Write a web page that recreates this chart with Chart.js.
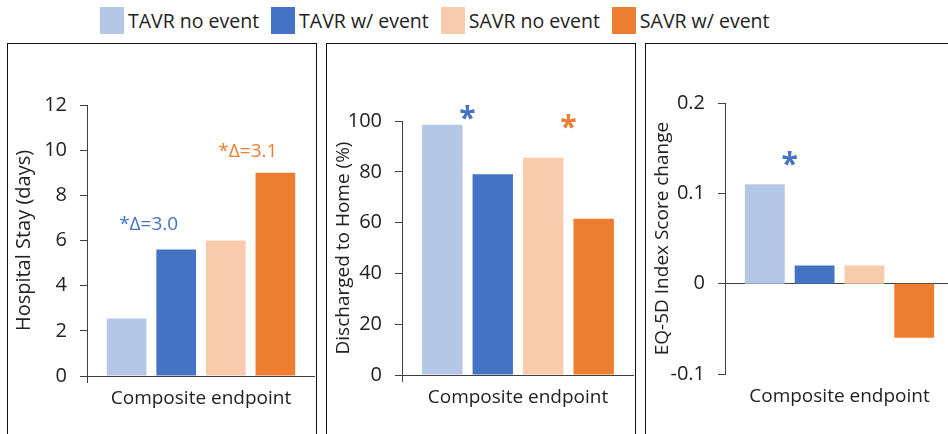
<!DOCTYPE html>
<html>
<head>
<meta charset="utf-8">
<script src="https://cdn.jsdelivr.net/npm/chart.js@4.4.1/dist/chart.umd.min.js"></script>
<style>
    body {
        margin: 0;
        width: 948px;
        height: 434px;
        overflow: hidden;
        background: #fff;
        position: relative;
        font-family: "Open Sans", sans-serif;
        color: #222;
    }
    .legend {
        position: absolute;
        top: 7px;
        left: 100px;
        display: flex;
        align-items: center;
        font-size: 19.5px;
        white-space: nowrap;
    }
    .legend-item {
        display: flex;
        align-items: center;
        margin-right: 12px;
    }
    .legend-box {
        width: 24px;
        height: 27px;
        margin-right: 4px;
    }
    .panel {
        position: absolute;
        top: 43px;
        height: 420px;
        border: 1px solid #111;
        box-sizing: border-box;
    }
    .chart-box {
        position: absolute;
        top: 44px;
        height: 390px;
    }
</style>
</head>
<body>

<div class="legend" id="legend"></div>

<div class="panel" style="left:7px;width:310px;"></div>
<div class="panel" style="left:326px;width:310px;"></div>
<div class="panel" style="left:645px;width:320px;"></div>

<div class="chart-box" style="left:8px;width:307px;"><canvas id="stayChart"></canvas></div>
<div class="chart-box" style="left:328px;width:306px;"><canvas id="homeChart"></canvas></div>
<div class="chart-box" style="left:647px;width:307px;"><canvas id="eqChart"></canvas></div>

<script>
// Data
const seriesLabels = ['TAVR no event', 'TAVR w/ event', 'SAVR no event', 'SAVR w/ event'];
const categories = ['Composite endpoint'];

const hospitalStay = [2.55, 5.6, 6.0, 9.0];
const dischargedHome = [98.5, 79, 85.5, 61.5];
const eq5dChange = [0.11, 0.02, 0.02, -0.06];

const stayTicks = [0, 2, 4, 6, 8, 10, 12];
const homeTicks = [0, 20, 40, 60, 80, 100];
const eqTicks = [-0.1, 0, 0.1, 0.2];

// Significance notes: text, the two bars it sits between, height in data units
const stayNotes = [
    { text: '*Δ=3.0', bars: [0, 1], value: 6.7, series: 1 },
    { text: '*Δ=3.1', bars: [2, 3], value: 9.95, series: 3 }
];
const homeNotes = [
    { text: '*', bars: [0, 1], value: 104, series: 1 },
    { text: '*', bars: [2, 3], value: 100.5, series: 3 }
];
const eqNotes = [
    { text: '*', bars: [0, 1], value: 0.14, series: 1 }
];

const seriesColors = ['#B4C7E7', '#4472C4', '#F8CBAD', '#ED7D31'];
const axisColor = '#404040';
const FONT = '"Open Sans", sans-serif';

// Legend
const legend = document.getElementById('legend');
legend.innerHTML = seriesLabels.map((label, i) => `
    <div class="legend-item">
        <div class="legend-box" style="background:${seriesColors[i]}"></div>
        <span>${label}</span>
    </div>
`).join('');

// Draws the asterisks / delta labels above the bars
const notesPlugin = {
    id: 'notes',
    afterDatasetsDraw(chart, args, opts) {
        const notes = opts.items || [];
        const ctx = chart.ctx;
        ctx.save();
        notes.forEach(note => {
            const a = chart.getDatasetMeta(note.bars[0]).data[0];
            const b = chart.getDatasetMeta(note.bars[1]).data[0];
            const y = chart.scales.y.getPixelForValue(note.value);
            ctx.fillStyle = seriesColors[note.series];
            if (note.text === '*') {
                ctx.font = `bold 30px ${FONT}`;
                ctx.textAlign = 'center';
                ctx.textBaseline = 'alphabetic';
                ctx.fillText('*', (a.x + b.x) / 2, y + 17);
            } else {
                ctx.font = `19px ${FONT}`;
                ctx.textAlign = 'right';
                ctx.textBaseline = 'middle';
                ctx.fillText(note.text, b.x + 2, y);
            }
        });
        ctx.restore();
    }
};

function isZero(v) {
    return Math.abs(v) < 1e-9;
}

function makeChart(id, values, ticks, title, titleSize, notes, yWidth, topPad, xHeight, showXTicks) {
    const step = ticks[1] - ticks[0];
    return new Chart(document.getElementById(id), {
        type: 'bar',
        data: {
            labels: categories,
            datasets: seriesLabels.map((label, i) => ({
                label: label,
                data: [values[i]],
                backgroundColor: seriesColors[i],
                borderWidth: 0
            }))
        },
        options: {
            responsive: true,
            maintainAspectRatio: false,
            animation: false,
            categoryPercentage: 0.87,
            barPercentage: 0.8,
            layout: {
                padding: { top: topPad, left: 0, right: 0, bottom: 0 }
            },
            plugins: {
                legend: { display: false },
                tooltip: { enabled: false },
                notes: { items: notes }
            },
            scales: {
                x: {
                    border: { display: false },
                    grid: {
                        display: true,
                        drawOnChartArea: false,
                        offset: true,
                        tickLength: 7,
                        color: showXTicks ? axisColor : 'transparent'
                    },
                    ticks: {
                        color: '#222',
                        padding: 4,
                        font: { family: FONT, size: 19 }
                    },
                    afterFit: scale => { scale.height = xHeight; }
                },
                y: {
                    min: ticks[0],
                    max: ticks[ticks.length - 1],
                    ticks: {
                        stepSize: step,
                        color: '#222',
                        padding: 13,
                        font: { family: FONT, size: 20 },
                        callback: v => String(Math.round(v * 1000) / 1000)
                    },
                    border: { display: true, color: axisColor, width: 1 },
                    grid: {
                        color: ctx => isZero(ctx.tick.value) ? axisColor : 'transparent',
                        tickColor: axisColor,
                        tickLength: 7,
                        lineWidth: 1
                    },
                    title: {
                        display: true,
                        text: title,
                        color: '#222',
                        font: { family: FONT, size: titleSize },
                        padding: { top: 4, bottom: 0 }
                    },
                    afterFit: scale => { scale.width = yWidth; }
                }
            }
        },
        plugins: [notesPlugin]
    });
}

makeChart('stayChart', hospitalStay, stayTicks, 'Hospital Stay (days)', 20, stayNotes, 79, 61, 58, true);
makeChart('homeChart', dischargedHome, homeTicks, 'Discharged to Home (%)', 19, homeNotes, 74, 77, 59, true);
makeChart('eqChart', eq5dChange, eqTicks, 'EQ-5D Index Score change', 19, eqNotes, 78, 59, 60, false);
</script>
</body>
</html>
